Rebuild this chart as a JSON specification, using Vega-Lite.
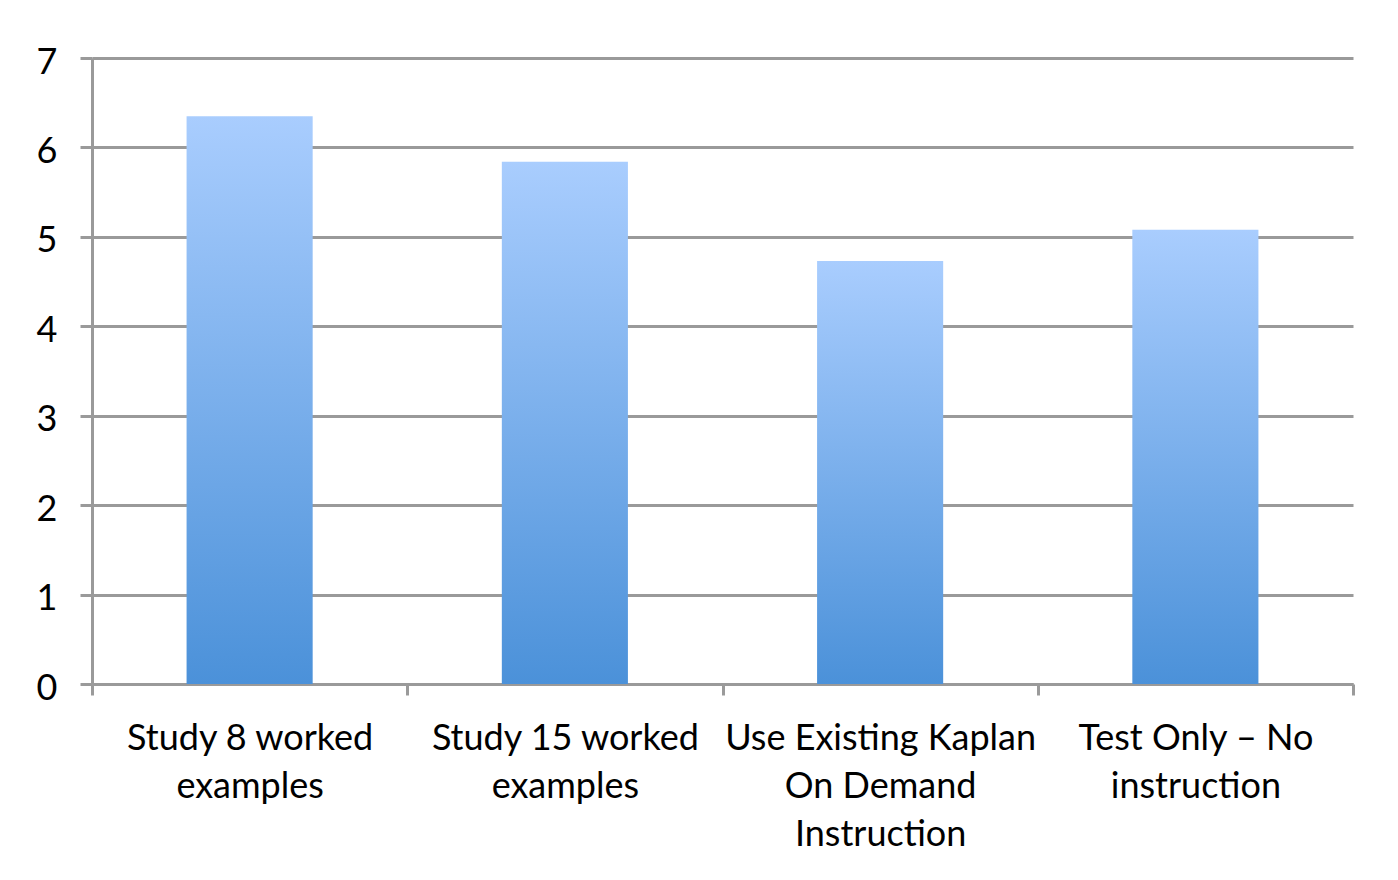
{
  "$schema": "https://vega.github.io/schema/vega-lite/v6.json",
  "width": 1261,
  "height": 626,
  "autosize": "none",
  "padding": {"left": 92, "top": 58, "right": 45, "bottom": 196},
  "background": "white",
  "config": {"view": {"stroke": null}, "font": "Lato"},
  "data": {
    "values": [
      {"group": "Study 8 worked\nexamples", "score": 6.35},
      {"group": "Study 15 worked\nexamples", "score": 5.84},
      {"group": "Use Existing Kaplan\nOn Demand\nInstruction", "score": 4.73},
      {"group": "Test Only – No\ninstruction", "score": 5.08}
    ]
  },
  "mark": {
    "type": "bar",
    "width": {"band": 0.4},
    "color": {
      "gradient": "linear",
      "x1": 0, "y1": 0, "x2": 0, "y2": 1,
      "stops": [
        {"offset": 0, "color": "#a9cdfe"},
        {"offset": 1, "color": "#4b91d9"}
      ]
    }
  },
  "encoding": {
    "x": {
      "field": "group",
      "type": "nominal",
      "sort": null,
      "scale": {"paddingInner": 0, "paddingOuter": 0},
      "axis": {
        "title": null,
        "labelAngle": 0,
        "labelExpr": "split(datum.label, '\\n')",
        "labelFont": "Lato",
        "labelFontSize": 36,
        "labelColor": "#000000",
        "labelLineHeight": 48,
        "labelLimit": 0,
        "labelPadding": 26,
        "labelBaseline": "top",
        "tickBand": "extent",
        "tickSize": 11,
        "tickWidth": 3,
        "tickColor": "#9a9a9a",
        "domainColor": "#9a9a9a",
        "domainWidth": 3,
        "grid": false
      }
    },
    "y": {
      "field": "score",
      "type": "quantitative",
      "scale": {"domain": [0, 7], "nice": false},
      "axis": {
        "title": null,
        "values": [0, 1, 2, 3, 4, 5, 6, 7],
        "labelFont": "Lato",
        "labelFontSize": 36,
        "labelColor": "#000000",
        "labelPadding": 23,
        "labelOffset": 4,
        "tickSize": 12,
        "tickWidth": 3,
        "tickColor": "#9a9a9a",
        "domainColor": "#9a9a9a",
        "domainWidth": 3,
        "grid": true,
        "gridColor": "#9a9a9a",
        "gridWidth": 3,
        "gridOpacity": 1
      }
    }
  }
}
